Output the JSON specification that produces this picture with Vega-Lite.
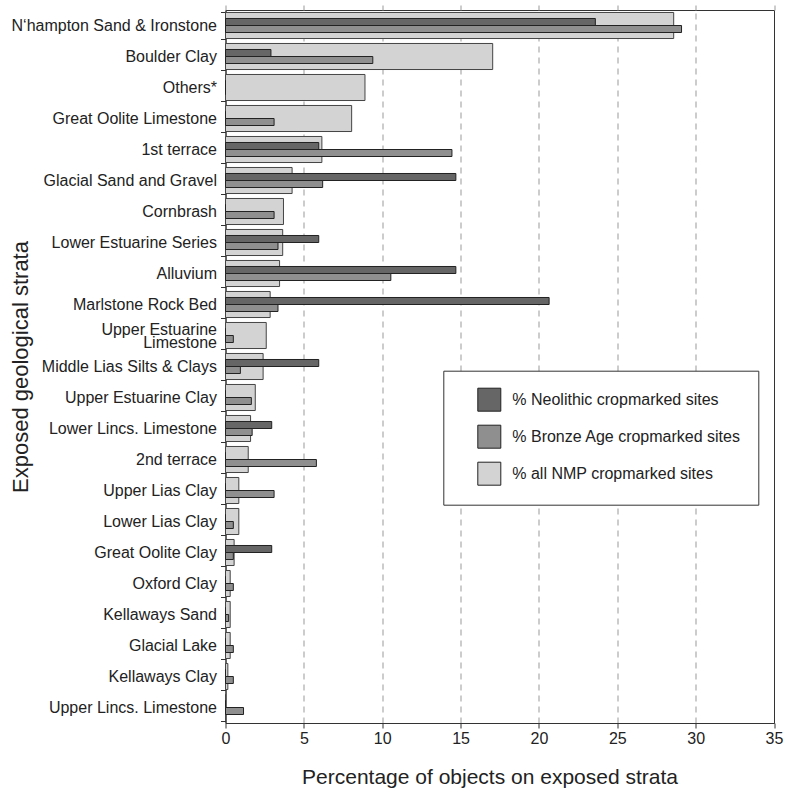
{
  "$schema": "https://vega.github.io/schema/vega-lite/v6.json",
  "width": 548.5,
  "height": 713,
  "autosize": {"type": "none"},
  "padding": {"left": 225.5, "top": 10, "right": 14, "bottom": 65},
  "background": "white",
  "config": {
    "view": {"stroke": "#333", "strokeWidth": 1},
    "font": "Liberation Sans",
    "legend": {
      "padding": 17,
      "strokeColor": "#333",
      "fillColor": "white",
      "symbolType": "square",
      "symbolSize": 529,
      "symbolStrokeColor": "#222",
      "symbolStrokeWidth": 1,
      "symbolOpacity": 1,
      "labelFontSize": 16,
      "labelColor": "#222",
      "labelFont": "Liberation Sans",
      "rowPadding": 9,
      "symbolOffset": 17,
      "labelOffset": 11,
      "labelLimit": 400
    }
  },
  "data": {
    "values": [
      {"stratum": "N‘hampton Sand & Ironstone", "neo": 23.6, "bronze": 29.1, "nmp": 28.6},
      {"stratum": "Boulder Clay", "neo": 2.9, "bronze": 9.4, "nmp": 17.05},
      {"stratum": "Others*", "neo": 0, "bronze": 0, "nmp": 8.9},
      {"stratum": "Great Oolite Limestone", "neo": 0, "bronze": 3.1, "nmp": 8.05},
      {"stratum": "1st terrace", "neo": 5.95, "bronze": 14.45, "nmp": 6.15},
      {"stratum": "Glacial Sand and Gravel", "neo": 14.7, "bronze": 6.2, "nmp": 4.25},
      {"stratum": "Cornbrash", "neo": 0, "bronze": 3.1, "nmp": 3.7},
      {"stratum": "Lower Estuarine Series", "neo": 5.95, "bronze": 3.35, "nmp": 3.65},
      {"stratum": "Alluvium", "neo": 14.7, "bronze": 10.55, "nmp": 3.45},
      {"stratum": "Marlstone Rock Bed", "neo": 20.65, "bronze": 3.35, "nmp": 2.85},
      {"stratum": "Upper Estuarine Limestone", "neo": 0, "bronze": 0.5, "nmp": 2.6},
      {"stratum": "Middle Lias Silts & Clays", "neo": 5.95, "bronze": 0.95, "nmp": 2.4},
      {"stratum": "Upper Estuarine Clay", "neo": 0, "bronze": 1.65, "nmp": 1.9},
      {"stratum": "Lower Lincs. Limestone", "neo": 2.95, "bronze": 1.7, "nmp": 1.6},
      {"stratum": "2nd terrace", "neo": 0, "bronze": 5.8, "nmp": 1.45},
      {"stratum": "Upper Lias Clay", "neo": 0, "bronze": 3.1, "nmp": 0.85},
      {"stratum": "Lower Lias Clay", "neo": 0, "bronze": 0.5, "nmp": 0.85},
      {"stratum": "Great Oolite Clay", "neo": 2.95, "bronze": 0.5, "nmp": 0.55},
      {"stratum": "Oxford Clay", "neo": 0, "bronze": 0.5, "nmp": 0.3},
      {"stratum": "Kellaways Sand", "neo": 0, "bronze": 0.2, "nmp": 0.3},
      {"stratum": "Glacial Lake", "neo": 0, "bronze": 0.5, "nmp": 0.3},
      {"stratum": "Kellaways Clay", "neo": 0, "bronze": 0.5, "nmp": 0.15},
      {"stratum": "Upper Lincs. Limestone", "neo": 0, "bronze": 1.15, "nmp": 0}
    ]
  },
  "layer": [
    {
      "transform": [{"fold": ["nmp"], "as": ["series", "value"]}],
      "mark": {"type": "bar", "stroke": "#444", "strokeWidth": 1},
      "encoding": {
        "y": {
          "field": "stratum",
          "type": "nominal",
          "scale": {
            "domain": ["N‘hampton Sand & Ironstone", "Boulder Clay", "Others*", "Great Oolite Limestone", "1st terrace", "Glacial Sand and Gravel", "Cornbrash", "Lower Estuarine Series", "Alluvium", "Marlstone Rock Bed", "Upper Estuarine Limestone", "Middle Lias Silts & Clays", "Upper Estuarine Clay", "Lower Lincs. Limestone", "2nd terrace", "Upper Lias Clay", "Lower Lias Clay", "Great Oolite Clay", "Oxford Clay", "Kellaways Sand", "Glacial Lake", "Kellaways Clay", "Upper Lincs. Limestone"],
            "paddingInner": 0.16,
            "paddingOuter": 0.08
          },
          "axis": {
            "title": "Exposed geological strata",
            "titleFontSize": 22,
            "titleFontWeight": "normal",
            "titleColor": "#222",
            "titleX": -205.5,
            "titleY": 356.5,
            "titleBaseline": "middle",
            "titleAngle": -90,
            "labelFontSize": 16,
            "labelColor": "#222",
            "labelLimit": 400,
            "labelPadding": 4,
            "labelExpr": "datum.value == 'Upper Estuarine Limestone' ? ['Upper Estuarine', 'Limestone'] : datum.value",
            "labelLineHeight": 13,
            "labelOffset": {"condition": {"test": "datum.value == 'Upper Estuarine Limestone'", "value": -6.5}, "value": 0},
            "tickSize": 5,
            "tickColor": "#333",
            "domainColor": "#333",
            "tickBand": "extent",
            "grid": false
          }
        },
        "x": {
          "field": "value",
          "type": "quantitative",
          "stack": null,
          "scale": {"domain": [0, 35], "nice": false},
          "axis": {
            "orient": "bottom",
            "values": [0, 5, 10, 15, 20, 25, 30, 35],
            "title": "Percentage of objects on exposed strata",
            "titleFontSize": 21,
            "titleFontWeight": "normal",
            "titleColor": "#222",
            "titleX": 264,
            "titleAlign": "center",
            "titleY": 54.5,
            "titleBaseline": "middle",
            "labelFontSize": 16,
            "labelColor": "#222",
            "labelPadding": 2,
            "labelFlush": false,
            "tickSize": 5,
            "tickColor": "#333",
            "domainColor": "#333",
            "grid": true,
            "gridDash": [6, 5],
            "gridColor": "#999",
            "gridOpacity": {"condition": {"test": "datum.value == 0 || datum.value == 35", "value": 0}, "value": 1}
          }
        },
        "color": {
          "field": "series",
          "type": "nominal",
          "scale": {"domain": ["neo", "bronze", "nmp"], "range": ["#666666", "#8f8f8f", "#d3d3d3"]},
          "legend": {
            "orient": "none",
            "legendX": 217.8,
            "legendY": 360.7,
            "title": null,
            "labelExpr": "datum.value == 'neo' ? '% Neolithic cropmarked sites' : datum.value == 'bronze' ? '% Bronze Age cropmarked sites' : '% all NMP cropmarked sites'"
          }
        }
      }
    },
    {
      "transform": [{"fold": ["neo", "bronze"], "as": ["series", "value"]}],
      "mark": {"type": "bar", "stroke": "#222", "strokeWidth": 1},
      "encoding": {
        "y": {"field": "stratum", "type": "nominal"},
        "yOffset": {
          "field": "series",
          "type": "nominal",
          "scale": {"domain": ["neo", "bronze"], "paddingInner": 0, "paddingOuter": 0.857}
        },
        "x": {
          "field": "value",
          "type": "quantitative",
          "stack": null,
          "axis": {
            "orient": "top",
            "values": [0, 5, 10, 15, 20, 25, 30, 35],
            "labels": false,
            "domain": false,
            "grid": false,
            "ticks": true,
            "tickSize": 5,
            "tickColor": "#999",
            "title": null
          }
        },
        "color": {"field": "series", "type": "nominal"}
      }
    }
  ],
  "resolve": {"axis": {"x": "independent"}}
}
